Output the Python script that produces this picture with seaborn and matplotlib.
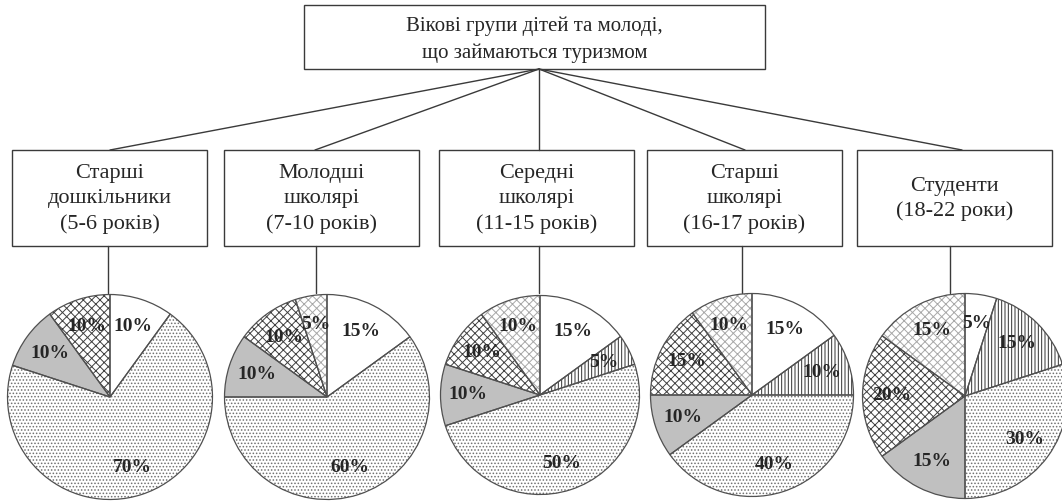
import matplotlib
matplotlib.use("Agg")
import matplotlib.pyplot as plt
from matplotlib.patches import Rectangle
import seaborn as sns


# Групи (підписи у блоках).
group_labels = [
    "Старші\nдошкільники\n(5-6 років)",
    "Молодші\nшколярі\n(7-10 років)",
    "Середні\nшколярі\n(11-15 років)",
    "Старші\nшколярі\n(16-17 років)",
    "Студенти\n(18-22 роки)",
]
title_text = "Вікові групи дітей та молоді,\nщо займаються туризмом"

# Частки сегментів (%), по годинниковій стрілці від 12 години.
share_white = [10, 15, 15, 15, 5]
share_vertical = [0, 0, 5, 10, 15]
share_dots = [70, 60, 50, 40, 30]
share_grey = [10, 10, 10, 10, 15]
share_cross = [10, 10, 10, 15, 20]
share_dense = [0, 5, 10, 10, 15]

# Стиль кожного типу сегмента: (заливка, штрихування, колір штриха).
SEGMENT_STYLES = [
    ("white", "", "#555555"),
    ("white", "|||||", "#303030"),
    ("white", ".....", "#707070"),
    ("#c0c0c0", "", "#555555"),
    ("white", "xxxx", "#404040"),
    ("white", "xxxx", "#a8a8a8"),
]

# Розміщення (пікселі).
W, H = 1062, 501
TITLE_BOX = (304, 5, 461, 64)
TITLE_JOINT = (539, 69)
BOX_X = [12, 224, 439, 647, 857]
BOX_W = 195
BOX_Y, BOX_H = 150, 96
BOX_TOP_LINK = [110, 315, 539, 745, 962]
STEM_X = [108, 316, 539, 742, 950]
PIE_CX = [110, 327, 540, 752, 965]
PIE_CY = [397, 397, 395, 395, 396]
PIE_R = [103, 103, 100, 102, 103]
PIE_TOP = 293

LINE_COLOR = "#3a3a3a"
FONT = ["Liberation Serif", "DejaVu Serif"]


def draw_scheme(ax):
    """Малює блоки з підписами та з'єднувальні лінії."""
    x, y, w, h = TITLE_BOX
    ax.add_patch(Rectangle((x, y), w, h, fill=False, ec=LINE_COLOR, lw=1.0))
    ax.text(x + w / 2, y + h / 2 + 3, title_text, ha="center", va="center",
            fontsize=15, family=FONT, linespacing=1.5)

    for i, label in enumerate(group_labels):
        bx = BOX_X[i]
        ax.add_patch(Rectangle((bx, BOX_Y), BOX_W, BOX_H, fill=False,
                               ec=LINE_COLOR, lw=1.0))
        ax.text(bx + BOX_W / 2, BOX_Y + BOX_H / 2 + 1, label, ha="center",
                va="center", fontsize=16, family=FONT, linespacing=1.4)
        ax.plot([TITLE_JOINT[0], BOX_TOP_LINK[i]], [TITLE_JOINT[1], BOX_Y],
                color=LINE_COLOR, lw=1.0)
        ax.plot([STEM_X[i], STEM_X[i]], [BOX_Y + BOX_H, PIE_TOP],
                color=LINE_COLOR, lw=1.0)


def draw_pie(fig, i):
    """Малює одну кругову діаграму у власних осях."""
    cx, cy, r = PIE_CX[i], PIE_CY[i], PIE_R[i]
    ax = fig.add_axes([(cx - r) / W, (H - cy - r) / H, 2 * r / W, 2 * r / H])

    values = [share_white[i], share_vertical[i], share_dots[i],
              share_grey[i], share_cross[i], share_dense[i]]
    kept = [(v, s) for v, s in zip(values, SEGMENT_STYLES) if v > 0]
    vals = [v for v, _ in kept]

    # Спочатку заливка зі штрихуванням (колір штриха = колір краю).
    wedges, texts, autotexts = ax.pie(
        vals, startangle=90, counterclock=False,
        autopct=lambda p: f"{p:.0f}%", pctdistance=0.72,
        wedgeprops={"linewidth": 0},
        textprops={"fontsize": 14, "fontweight": "bold", "family": FONT},
    )
    for wedge, (_, (face, hatch, hcol)) in zip(wedges, kept):
        wedge.set_facecolor(face)
        wedge.set_hatch(hatch)
        wedge.set_edgecolor(hcol)
    for t in autotexts:
        t.set_zorder(5)

    # Потім контури сегментів.
    ax.pie(vals, startangle=90, counterclock=False,
           colors=["none"] * len(vals),
           wedgeprops={"linewidth": 0.9, "edgecolor": "#505050"})

    ax.set_xlim(-1.005, 1.005)
    ax.set_ylim(-1.005, 1.005)
    ax.set_axis_off()


def main():
    sns.set_theme(style="white")
    plt.rcParams["font.family"] = FONT
    plt.rcParams["hatch.linewidth"] = 0.7

    fig = plt.figure(figsize=(W / 100, H / 100), dpi=100)
    fig.patch.set_facecolor("white")

    ax = fig.add_axes([0, 0, 1, 1])
    ax.set_xlim(0, W)
    ax.set_ylim(H, 0)
    ax.set_axis_off()
    draw_scheme(ax)

    for i in range(len(group_labels)):
        draw_pie(fig, i)

    fig.savefig("out.png", dpi=100, facecolor="white")
    plt.close(fig)


if __name__ == "__main__":
    main()
